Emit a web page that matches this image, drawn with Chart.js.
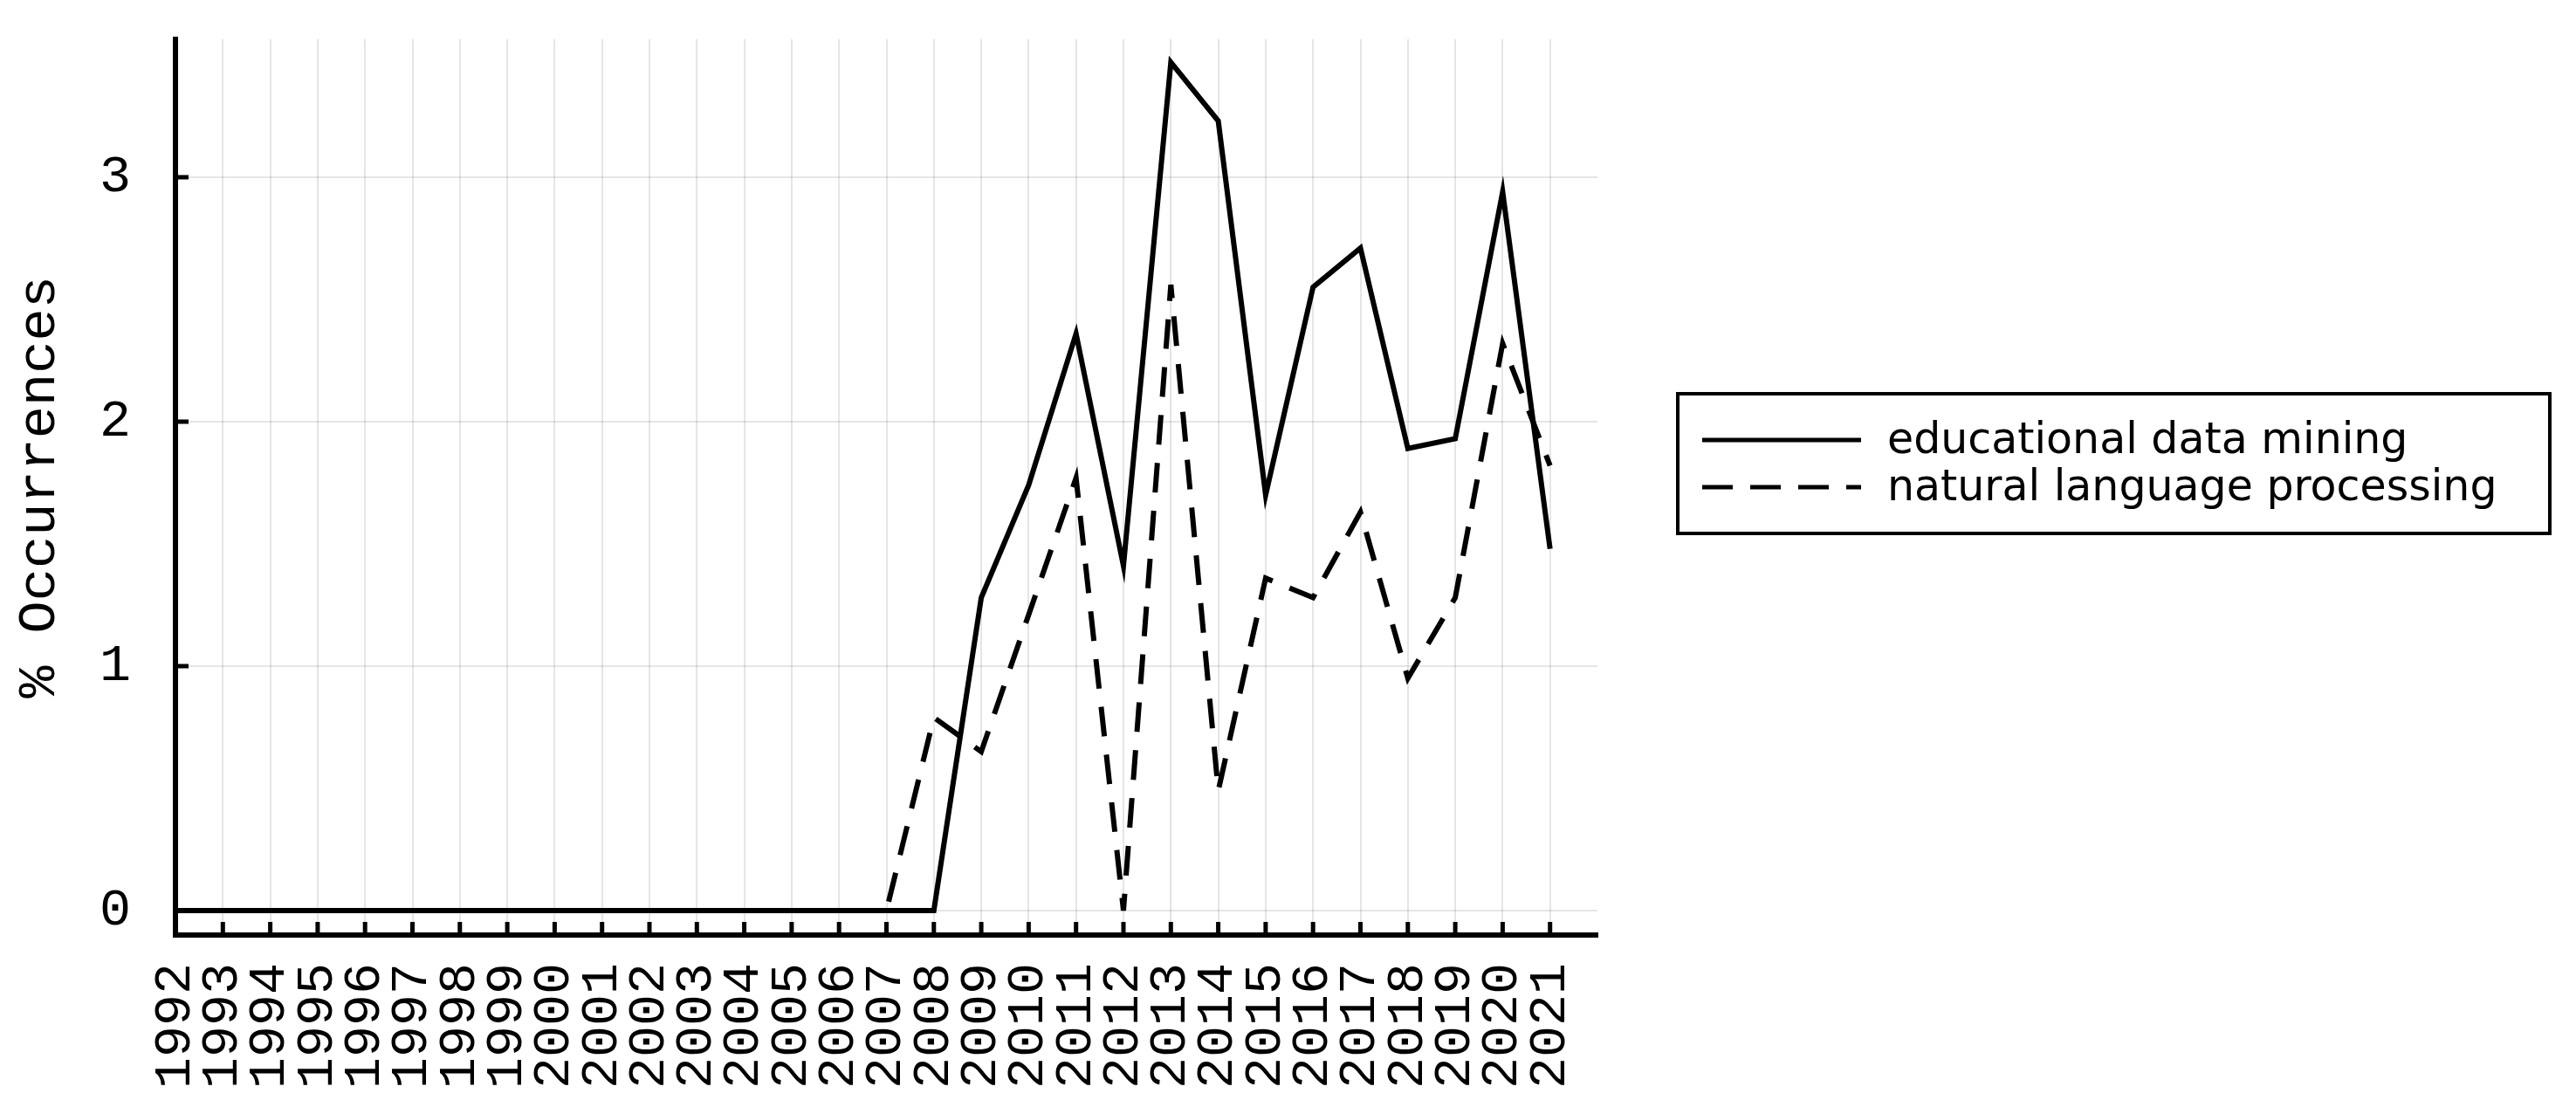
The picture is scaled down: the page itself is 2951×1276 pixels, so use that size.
<!DOCTYPE html>
<html lang="en">
<head>
    <meta charset="UTF-8">
    <title>% Occurrences</title>
    <script src="https://cdn.jsdelivr.net/npm/chart.js"></script>
    <style>
        html, body {
            margin: 0;
            padding: 0;
            background: #fff;
        }
        #wrap {
            width: 2951px;
            height: 1276px;
        }
    </style>
</head>
<body>
    <div id="wrap"><canvas id="chart" width="2951" height="1276"></canvas></div>
    <script>
        // Values
        const years = [1992, 1993, 1994, 1995, 1996, 1997, 1998, 1999, 2000, 2001,
                       2002, 2003, 2004, 2005, 2006, 2007, 2008, 2009, 2010, 2011,
                       2012, 2013, 2014, 2015, 2016, 2017, 2018, 2019, 2020, 2021];
        const edm = [0, 0, 0, 0, 0, 0, 0, 0, 0, 0,
                     0, 0, 0, 0, 0, 0, 0, 1.28, 1.74, 2.36,
                     1.41, 3.47, 3.23, 1.70, 2.55, 2.71, 1.89, 1.93, 2.94, 1.48];
        const nlp = [0, 0, 0, 0, 0, 0, 0, 0, 0, 0,
                     0, 0, 0, 0, 0, 0, 0.79, 0.65, 1.21, 1.77,
                     0, 2.56, 0.49, 1.36, 1.28, 1.63, 0.95, 1.28, 2.32, 1.82];
        const seriesNames = ['educational data mining', 'natural language processing'];
        const yTicks = [0, 1, 2, 3];

        const tickFont = { family: 'Liberation Mono', size: 60 };
        const gridColor = 'rgba(0, 0, 0, 0.1)';

        // short tick marks pointing into the plot
        const innerTicks = {
            id: 'innerTicks',
            afterDraw(chart) {
                const { ctx, chartArea, scales } = chart;
                ctx.save();
                ctx.strokeStyle = '#000';
                ctx.lineWidth = 5;
                ctx.beginPath();
                years.forEach(v => {
                    const px = scales.x.getPixelForValue(v);
                    ctx.moveTo(px, chartArea.bottom);
                    ctx.lineTo(px, chartArea.bottom - 15);
                });
                yTicks.forEach(v => {
                    const py = scales.y.getPixelForValue(v);
                    ctx.moveTo(chartArea.left, py);
                    ctx.lineTo(chartArea.left + 15, py);
                });
                ctx.stroke();
                ctx.restore();
            }
        };

        // framed legend to the right of the plot
        const legendBox = {
            id: 'legendBox',
            afterDraw(chart) {
                const ctx = chart.ctx;
                ctx.save();
                ctx.strokeStyle = '#000';
                ctx.lineWidth = 4;
                ctx.strokeRect(1922, 451, 999, 160);
                ctx.font = '49px "DejaVu Sans"';
                ctx.textBaseline = 'middle';
                ctx.fillStyle = '#000';
                chart.data.datasets.forEach((ds, i) => {
                    const y = 504 + i * 54;
                    ctx.lineWidth = 5;
                    ctx.setLineDash(ds.borderDash ? [35, 20] : []);
                    ctx.beginPath();
                    ctx.moveTo(1950, y);
                    ctx.lineTo(2132, y);
                    ctx.stroke();
                    ctx.setLineDash([]);
                    ctx.fillText(ds.label, 2162, y + 2);
                });
                ctx.restore();
            }
        };

        new Chart(document.getElementById('chart'), {
            type: 'line',
            data: {
                datasets: [{
                    label: seriesNames[0],
                    data: years.map((x, i) => ({ x: x, y: edm[i] })),
                    borderColor: '#000',
                    borderWidth: 6,
                    pointRadius: 0,
                    tension: 0,
                    fill: false
                }, {
                    label: seriesNames[1],
                    data: years.map((x, i) => ({ x: x, y: nlp[i] })),
                    borderColor: '#000',
                    borderWidth: 6,
                    borderDash: [34, 21],
                    pointRadius: 0,
                    tension: 0,
                    fill: false
                }]
            },
            options: {
                responsive: false,
                animation: false,
                devicePixelRatio: 1,
                layout: {
                    padding: { top: 45, right: 1121, bottom: 0, left: 0 }
                },
                plugins: {
                    legend: { display: false },
                    tooltip: { enabled: false }
                },
                scales: {
                    x: {
                        type: 'linear',
                        min: 1992,
                        max: 2022,
                        afterBuildTicks: s => { s.ticks = years.map(v => ({ value: v })); },
                        afterFit: s => {
                            s.height = 205;
                            s.paddingLeft = 0;
                            s.paddingRight = 0;
                        },
                        ticks: {
                            autoSkip: false,
                            minRotation: 90,
                            maxRotation: 90,
                            padding: 32,
                            color: '#000',
                            font: tickFont,
                            callback: v => String(v)
                        },
                        grid: { color: gridColor, lineWidth: 2, drawTicks: false },
                        border: { display: true, color: '#000', width: 6 }
                    },
                    y: {
                        min: -0.1,
                        max: 3.564,
                        afterBuildTicks: s => { s.ticks = yTicks.map(v => ({ value: v })); },
                        afterFit: s => {
                            s.width = 201;
                            s.paddingTop = 0;
                            s.paddingBottom = 0;
                        },
                        ticks: {
                            padding: 51,
                            color: '#000',
                            font: tickFont,
                            callback: v => String(v)
                        },
                        grid: { color: gridColor, lineWidth: 2, drawTicks: false },
                        border: { display: true, color: '#000', width: 6 },
                        title: {
                            display: true,
                            text: '% Occurrences',
                            color: '#000',
                            font: { family: 'Liberation Mono', size: 62 },
                            padding: { top: 8, bottom: 0 }
                        }
                    }
                }
            },
            plugins: [innerTicks, legendBox]
        });
    </script>
</body>
</html>
